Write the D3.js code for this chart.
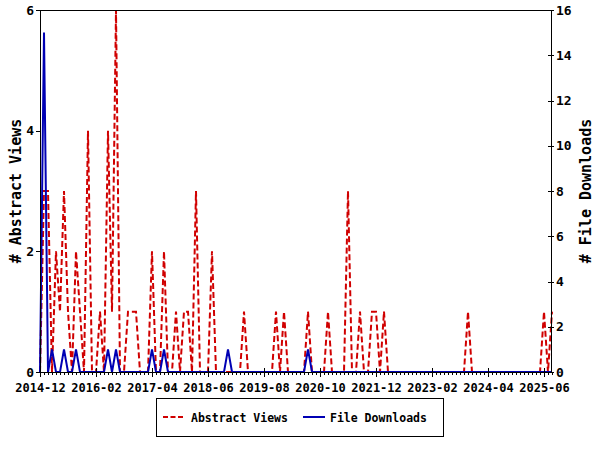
<!DOCTYPE html>
<html><head><meta charset="utf-8">
<script src="https://cdn.jsdelivr.net/npm/d3@7"></script>
<style>
body{margin:0;background:#fff;}
text{font-family:"DejaVu Sans Mono",monospace;font-weight:bold;fill:#000;}
</style></head>
<body><svg id="c" width="600" height="450"></svg>
<script>
// months since 2014-12 (index 0) to 2025-08 (index 128)
const startMonth = "2014-12";
const tickLabels = ["2014-12","2016-02","2017-04","2018-06","2019-08","2020-10","2021-12","2023-02","2024-04","2025-06"];
const abstractViews = [
0,3,3,0,2,1,3,1,0,2, 1,0,4,0,0,1,0,4,1,6,
0,0,1,1,1,0,0,0,2,0, 0,2,0,0,1,0,1,1,0,3,
0,0,0,2,0,0,0,0,0,0, 0,1,0,0,0,0,0,0,0,1,
0,1,0,0,0,0,0,1,0,0, 0,0,1,0,0,0,0,3,0,0,
1,0,0,1,1,0,1,0,0,0, 0,0,0,0,0,0,0,0,0,0,
0,0,0,0,0,0,0,1,0,0, 0,0,0,0,0,0,0,0,0,0,
0,0,0,0,0,0,1,0,1];
const fileDownloads = [
0,15,0,1,0,0,1,0,0,1, 0,0,0,0,0,0,0,1,0,1,
0,0,0,0,0,0,0,0,1,0, 0,1,0,0,0,0,0,0,0,0,
0,0,0,0,0,0,0,1,0,0, 0,0,0,0,0,0,0,0,0,0,
0,0,0,0,0,0,0,1,0,0, 0,0,0,0,0,0,0,0,0,0,
0,0,0,0,0,0,0,0,0,0, 0,0,0,0,0,0,0,0,0,0,
0,0,0,0,0,0,0,0,0,0, 0,0,0,0,0,0,0,0,0,0,
0,0,0,0,0,0,0,0,0];
const leftTicks = [0,2,4,6];
const rightTicks = [0,2,4,6,8,10,12,14,16];

const svg = d3.select("#c");
svg.append("rect").attr("width",600).attr("height",450).attr("fill","#fff");
const L=40,R=552,T=10,B=372;
const n = abstractViews.length;
const x = d3.scaleLinear().domain([0,n-1]).range([L,R]);
const yL = d3.scaleLinear().domain([0,6]).range([B,T]);
const yR = d3.scaleLinear().domain([0,16]).range([B,T]);

// series
const lineA = d3.line().x((d,i)=>x(i)).y(d=>yL(d));
const lineF = d3.line().x((d,i)=>x(i)).y(d=>yR(d));
svg.append("path").datum(abstractViews).attr("d",lineA)
  .attr("fill","none").attr("stroke","#d00000").attr("stroke-width",2)
  .attr("stroke-dasharray","6,3");
svg.append("path").datum(fileDownloads).attr("d",lineF)
  .attr("fill","none").attr("stroke","#0000b4").attr("stroke-width",2);

// frame
svg.append("rect").attr("x",L+0.5).attr("y",T+0.5).attr("width",R-L-1).attr("height",B-T)
  .attr("fill","none").attr("stroke","#000").attr("stroke-width",1);

// x axis minor ticks
const gx = svg.append("g").attr("transform",`translate(0,${B})`)
  .call(d3.axisBottom(x).tickValues(d3.range(0,n)).tickSize(3).tickFormat(""));
gx.select(".domain").remove();
gx.selectAll("line").attr("stroke","#000").attr("shape-rendering","crispEdges");
const majorIdx = tickLabels.map((d,i)=>i*14);
const gx2 = svg.append("g").attr("transform",`translate(0,${B})`)
  .call(d3.axisBottom(x).tickValues(majorIdx).tickSize(5).tickPadding(6)
  .tickFormat((d,i)=>tickLabels[i]));
gx2.select(".domain").remove();
gx2.selectAll("line").attr("stroke","#000").attr("y1",-4).attr("shape-rendering","crispEdges");
gx2.selectAll("text").attr("font-size",12).style("font-family","DejaVu Sans Mono").style("font-weight","bold");

// left axis
const gl = svg.append("g").attr("transform",`translate(${L},0)`)
  .call(d3.axisLeft(yL).tickValues(leftTicks).tickSize(4).tickPadding(2).tickFormat(d3.format("d")));
gl.select(".domain").remove();
gl.selectAll("line").attr("stroke","#000").attr("shape-rendering","crispEdges");
gl.selectAll("text").attr("font-size",13).style("font-family","DejaVu Sans Mono").style("font-weight","bold");

// right axis
const gr = svg.append("g").attr("transform",`translate(${R},0)`)
  .call(d3.axisRight(yR).tickValues(rightTicks).tickSize(2).tickPadding(2).tickFormat(d3.format("d")));
gr.select(".domain").remove();
gr.selectAll("line").attr("stroke","#000").attr("x1",-4).attr("shape-rendering","crispEdges");
gr.selectAll("text").attr("font-size",13).style("font-family","DejaVu Sans Mono").style("font-weight","bold");

// titles
svg.append("text").attr("transform",`translate(21,${(T+B)/2}) rotate(-90)`)
  .attr("text-anchor","middle").attr("font-size",15).text("# Abstract Views");
svg.append("text").attr("transform",`translate(591,${(T+B)/2}) rotate(-90)`)
  .attr("text-anchor","middle").attr("font-size",15).text("# File Downloads");

// legend
const lg = svg.append("g");
lg.append("rect").attr("x",156.5).attr("y",398.5).attr("width",287).attr("height",38)
  .attr("fill","#fff").attr("stroke","#000").attr("stroke-width",1);
lg.append("line").attr("x1",163).attr("x2",183).attr("y1",417).attr("y2",417)
  .attr("stroke","#d00000").attr("stroke-width",2).attr("stroke-dasharray","5,2.5");
lg.append("text").attr("x",191).attr("y",421.5).attr("font-size",11.5).text("Abstract Views");
lg.append("line").attr("x1",303).attr("x2",325).attr("y1",417).attr("y2",417)
  .attr("stroke","#0000b4").attr("stroke-width",2);
lg.append("text").attr("x",330).attr("y",421.5).attr("font-size",11.5).text("File Downloads");
</script></body></html>
